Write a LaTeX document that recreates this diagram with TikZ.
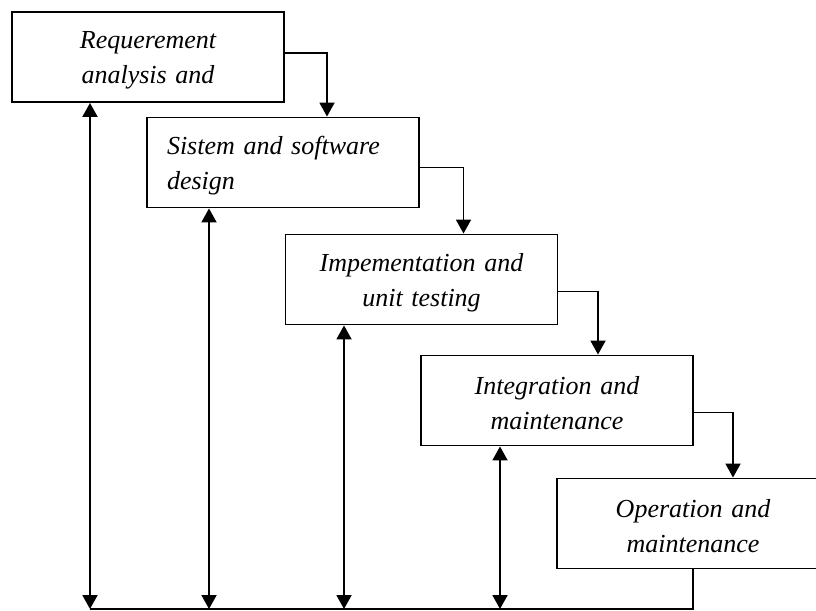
\documentclass[tikz,border=0pt]{standalone}
\usepackage{fontspec}
\setmainfont{Liberation Serif}
\usetikzlibrary{arrows.meta}

\begin{document}
\begin{tikzpicture}[
        x=1pt, y=-1pt,
        phase/.style={draw, line width=1.9pt, minimum width=272pt, minimum height=90pt,
          text width=232pt, inner xsep=20pt, align=center,
          execute at begin node={\rule{0pt}{24pt}},
          font=\fontsize{26}{35}\selectfont\itshape},
        flow/.style={line width=1.9pt, -{Triangle[width=15pt,length=14pt]}},
        back/.style={line width=1.9pt, {Triangle[width=15pt,length=14pt]}-{Triangle[width=15pt,length=14pt]}},
        baseline/.style={line width=1.9pt}
      ]

% Frame
        \useasboundingbox (0,0) rectangle (816,610);
        \clip (0,0) rectangle (816,610);

% Phases
        \node[phase] (req) at (148,57) {Requerement\\analysis and};
        \node[phase, align=left] (design) at (283,162.5) {Sistem and software\\design};
        \node[phase] (impl) at (421.5,279.5) {Impementation and\\unit testing};
        \node[phase] (integ) at (557,400.5) {Integration and\\maintenance};
        \node[phase] (oper) at (693,523.5) {Operation and\\maintenance};

% Cascade
        \draw[flow] ([yshift=4pt]req.east) -| ([xshift=44pt]design.north);
        \draw[flow] ([yshift=-5pt]design.east) -| ([xshift=42pt]impl.north);
        \draw[flow] ([yshift=-12pt]impl.east) -| ([xshift=41pt]integ.north);
        \draw[flow] ([yshift=-12pt]integ.east) -| ([xshift=40pt]oper.north);

% Feedback line
        \coordinate (base) at (90,609);
        \draw[baseline] (base) -| (oper.south);
        \draw[back] ([xshift=-58pt]req.south) -- ([xshift=-58pt]req.south |- base);
        \draw[back] ([xshift=-74pt]design.south) -- ([xshift=-74pt]design.south |- base);
        \draw[back] ([xshift=-77.5pt]impl.south) -- ([xshift=-77.5pt]impl.south |- base);
        \draw[back] ([xshift=-57pt]integ.south) -- ([xshift=-57pt]integ.south |- base);

      \end{tikzpicture}
\end{document}
